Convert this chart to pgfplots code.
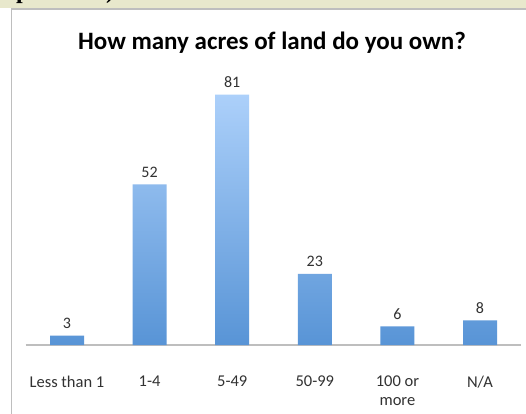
\documentclass[border=0pt]{standalone}
\usepackage{pgfplots}
\pgfplotsset{compat=1.18}
\usepackage{fontspec}
\setmainfont{Carlito}
\newfontfamily\serif{Liberation Serif}
\definecolor{beige}{RGB}{232,232,204}
\definecolor{boxgray}{RGB}{190,190,190}
\definecolor{bartop}{RGB}{172,208,250}
\definecolor{barbot}{RGB}{88,148,214}
\definecolor{txt}{RGB}{50,50,50}
\begin{document}
\begin{tikzpicture}[x=1pt,y=1pt]
\fill[white] (0,0) rectangle (526,413);
\fill[beige] (0,404.5) rectangle (526,413);
\begin{scope}
\clip (0,404.5) rectangle (526,413);
\node[anchor=base west, inner sep=0] at (16,414.5) {\serif\bfseries\fontsize{24}{24}\selectfont p};
\node[anchor=base west, inner sep=0] at (106,414.5) {\serif\bfseries\fontsize{24}{24}\selectfont )};
\end{scope}
\draw[boxgray, line width=1.6pt] (11.5,-5) -- (11.5,404) -- (530,404);
\node[font=\bfseries\fontsize{25}{30}\selectfont] at (272,370) {How many acres of land do you own?};
\begin{axis}[
  at={(25.7pt,68pt)}, anchor=south west,
  x=82.6pt, y=3.09pt,
  xmin=-0.5, xmax=5.5, ymin=0, ymax=100,
  hide y axis,
  axis x line*=bottom,
  x axis line style={draw=boxgray, line width=1.3pt, -},
  xtick=data,
  xticklabels={Less than 1,1-4,5-49,50-99,{100 or\\more},N/A},
  xtick style={draw=none},
  xticklabel style={font=\fontsize{16.5}{18.5}\selectfont, text=txt, align=center, anchor=north, yshift=-23pt},
  ybar, bar width=34pt,
  /pgf/number format/assume math mode=true,
  nodes near coords,
  every node near coord/.append style={font=\fontsize{16}{18}\selectfont, text=txt, yshift=3.5pt},
  clip=false,
]
\addplot[draw=none, top color=bartop, bottom color=barbot] coordinates {(0,3) (1,52) (2,81) (3,23) (4,6) (5,8)};
\end{axis}
\pgfresetboundingbox
\useasboundingbox (0,0) rectangle (526,413);
\end{tikzpicture}
\end{document}
